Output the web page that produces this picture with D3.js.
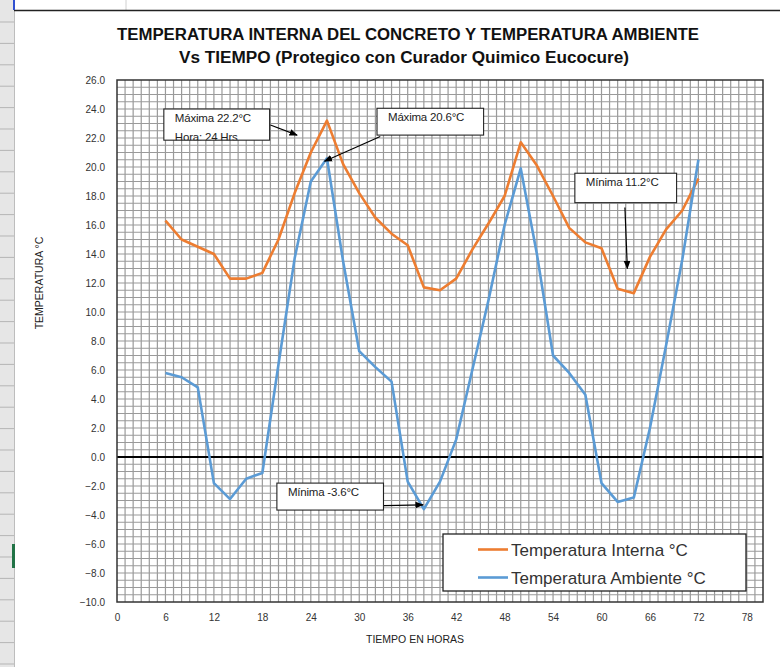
<!DOCTYPE html>
<html>
<head>
<meta charset="utf-8">
<script src="https://cdn.jsdelivr.net/npm/d3@7"></script>
<style>
  body { margin: 0; background: #fff; }
  svg { display: block; font-family: "Liberation Sans", Arial, sans-serif; }
</style>
</head>
<body>
<svg class="chart"></svg>
<script>
// horas de lectura
var horas = [6, 8, 10, 12, 14, 16, 18, 20, 22, 24, 26, 28, 30, 32, 34, 36, 38,
             40, 42, 44, 46, 48, 50, 52, 54, 56, 58, 60, 62, 64, 66, 68, 70, 72];

var interna = [16.3, 15.0, 14.5, 14.0, 12.3, 12.3, 12.7, 15.0, 18.2, 21.0, 23.2, 20.2,
               18.2, 16.5, 15.4, 14.6, 11.7, 11.5, 12.3, 14.3, 16.1, 18.0, 21.7, 20.1,
               18.0, 15.8, 14.8, 14.4, 11.6, 11.3, 13.8, 15.7, 17.0, 19.2];

var ambiente = [5.8, 5.5, 4.8, -1.8, -2.9, -1.5, -1.1, 6.4, 13.7, 19.0, 20.6, 13.5,
                7.3, 6.2, 5.2, -1.7, -3.6, -1.7, 1.2, 6.0, 10.8, 16.0, 19.9, 14.0,
                7.0, 5.8, 4.3, -1.8, -3.1, -2.8, 2.0, 7.7, 13.6, 20.5];

var xTicks = d3.range(0, 79, 6);
var yTicks = d3.range(-10, 26.1, 2);

var series = [
  { name: "Temperatura Interna °C", values: interna, color: "#ED7D31" },
  { name: "Temperatura Ambiente °C", values: ambiente, color: "#5B9BD5" }
];

// notas sobre la gráfica (caja: x0, t0, x1, t1 en unidades de datos)
var notas = [
  { lines: ["Máxima 22.2°C", "Hora: 24 Hrs"], box: [5.8, 24.0, 18.9, 21.85], from: [19.0, 22.9], to: [22.3, 22.2] },
  { lines: ["Máxima 20.6°C"], box: [32.2, 24.05, 45.4, 22.2], from: [32.6, 22.1], to: [25.7, 20.4] },
  { lines: ["Mínima 11.2°C"], box: [56.7, 19.57, 69.3, 17.54], from: [62.9, 17.2], to: [63.2, 13.0] },
  { lines: ["Mínima -3.6°C"], box: [19.8, -1.8, 33.0, -3.66], from: [33.0, -3.35], to: [37.9, -3.3] }
];

var W = 780, H = 667;
var margin = { top: 80, right: 17, bottom: 65, left: 117 },
    width = W - margin.left - margin.right,
    height = H - margin.top - margin.bottom;

var chart = d3.select(".chart").attr("width", W).attr("height", H);

// marco de la hoja de cálculo
chart.append("rect").attr("x", 0).attr("y", 0).attr("width", 14).attr("height", H).attr("fill", "#e6e6e6");
chart.append("line").attr("x1", 14.5).attr("x2", 14.5).attr("y1", 0).attr("y2", H).attr("stroke", "#bdbdbd");
chart.selectAll(".fila").data(d3.range(22, H, 21.4)).enter().append("line")
  .attr("x1", 0).attr("x2", 14).attr("y1", function(d) { return d; }).attr("y2", function(d) { return d; })
  .attr("stroke", "#b5b5b5");
chart.append("line").attr("x1", 126).attr("x2", 126).attr("y1", 0).attr("y2", 10).attr("stroke", "#d0d0d0");
chart.append("line").attr("x1", 14).attr("x2", W).attr("y1", 10.5).attr("y2", 10.5).attr("stroke", "#222").attr("stroke-width", 1.3);
chart.append("rect").attr("x", 13).attr("y", 0).attr("width", 2).attr("height", 10).attr("fill", "#3050d0");
chart.append("rect").attr("x", 12).attr("y", 544).attr("width", 3).attr("height", 24).attr("fill", "#217346");

var x = d3.scaleLinear().domain([0, 80]).range([0, width]);
var y = d3.scaleLinear().domain([-10, 26]).range([height, 0]);

var main = chart.append("g").attr("transform", "translate(" + margin.left + "," + margin.top + ")");

// cuadrícula
main.selectAll(".gv").data(d3.range(1, 80)).enter().append("line")
  .attr("x1", function(d) { return x(d); }).attr("x2", function(d) { return x(d); })
  .attr("y1", 0).attr("y2", height)
  .attr("stroke", "#9a9a9a").attr("stroke-width", 1.2);
main.selectAll(".gh").data(d3.range(-9.5, 26, 0.5)).enter().append("line")
  .attr("x1", 0).attr("x2", width)
  .attr("y1", function(d) { return y(d); }).attr("y2", function(d) { return y(d); })
  .attr("stroke", "#9a9a9a").attr("stroke-width", 1.2);

main.append("line").attr("x1", 0).attr("x2", width).attr("y1", y(0)).attr("y2", y(0))
  .attr("stroke", "#000").attr("stroke-width", 2.2);

main.append("rect").attr("width", width).attr("height", height)
  .attr("fill", "none").attr("stroke", "#333").attr("stroke-width", 1.5);

// ejes
var xAxis = d3.axisBottom(x).tickValues(xTicks).tickSize(0).tickPadding(12);
var gx = main.append("g").attr("transform", "translate(0," + height + ")").call(xAxis);
var yAxis = d3.axisLeft(y).tickValues(yTicks).tickSize(0).tickPadding(12).tickFormat(d3.format(".1f"));
var gy = main.append("g").call(yAxis);
[gx, gy].forEach(function(g) {
  g.select(".domain").remove();
  g.selectAll("text").attr("font-size", 10).attr("fill", "#333").attr("font-family", "Liberation Sans, Arial, sans-serif");
});

chart.append("text").attr("x", 415).attr("y", 643).attr("text-anchor", "middle")
  .attr("font-size", 10.5).attr("fill", "#222").text("TIEMPO EN HORAS");
chart.append("text").attr("transform", "translate(43,283) rotate(-90)").attr("text-anchor", "middle")
  .attr("font-size", 10.5).attr("fill", "#222").text("TEMPERATURA °C");

// título
chart.append("text").attr("x", 408).attr("y", 40).attr("text-anchor", "middle")
  .attr("font-size", 16).attr("font-weight", "bold").attr("fill", "#111")
  .attr("textLength", 582).attr("lengthAdjust", "spacingAndGlyphs")
  .text("TEMPERATURA INTERNA DEL CONCRETO Y TEMPERATURA AMBIENTE");
chart.append("text").attr("x", 404).attr("y", 63).attr("text-anchor", "middle")
  .attr("font-size", 16).attr("font-weight", "bold").attr("fill", "#111")
  .attr("textLength", 450).attr("lengthAdjust", "spacingAndGlyphs")
  .text("Vs TIEMPO (Protegico con Curador Quimico Eucocure)");

// series
var line = d3.line()
  .x(function(d, i) { return x(horas[i]); })
  .y(function(d) { return y(d); });

series.forEach(function(s) {
  main.append("path").datum(s.values)
    .attr("fill", "none").attr("stroke", s.color).attr("stroke-width", 2.6)
    .attr("stroke-linejoin", "round").attr("d", line);
});

// notas con flechas
var defs = chart.append("defs");
defs.append("marker").attr("id", "flecha")
  .attr("viewBox", "0 0 10 10").attr("refX", 9).attr("refY", 5)
  .attr("markerWidth", 7).attr("markerHeight", 7).attr("orient", "auto-start-reverse")
  .append("path").attr("d", "M0,1L10,5L0,9z").attr("fill", "#000");

notas.forEach(function(n, k) {
  var bx = x(n.box[0]), by = y(n.box[1]), bw = x(n.box[2]) - bx, bh = y(n.box[3]) - by;
  main.append("line").attr("x1", x(n.from[0])).attr("y1", y(n.from[1]))
    .attr("x2", x(n.to[0])).attr("y2", y(n.to[1]))
    .attr("stroke", "#000").attr("stroke-width", 1.2).attr("marker-end", "url(#flecha)");
  defs.append("clipPath").attr("id", "nota" + k)
    .append("rect").attr("x", bx).attr("y", by).attr("width", bw).attr("height", bh);
  main.append("rect").attr("x", bx).attr("y", by).attr("width", bw).attr("height", bh)
    .attr("fill", "#fff");
  var g = main.append("g").attr("clip-path", "url(#nota" + k + ")");
  n.lines.forEach(function(t, i) {
    g.append("text").attr("x", bx + 11).attr("y", by + 13 + i * 19)
      .attr("font-size", 11.5).attr("fill", "#222").attr("letter-spacing", -0.2).text(t);
  });
  main.append("rect").attr("x", bx).attr("y", by).attr("width", bw).attr("height", bh)
    .attr("fill", "none").attr("stroke", "#222").attr("stroke-width", 1.1);
});

// leyenda
var lg = chart.append("g").attr("transform", "translate(443,534)");
lg.append("rect").attr("width", 303).attr("height", 57).attr("fill", "#fff")
  .attr("stroke", "#222").attr("stroke-width", 1.3);
series.forEach(function(s, i) {
  var yy = 15.5 + i * 28;
  lg.append("line").attr("x1", 35).attr("x2", 65).attr("y1", yy).attr("y2", yy)
    .attr("stroke", s.color).attr("stroke-width", 2.6);
  lg.append("text").attr("x", 68).attr("y", yy + 6.5).attr("font-size", 17).attr("fill", "#333").text(s.name);
});
</script>
</body>
</html>
